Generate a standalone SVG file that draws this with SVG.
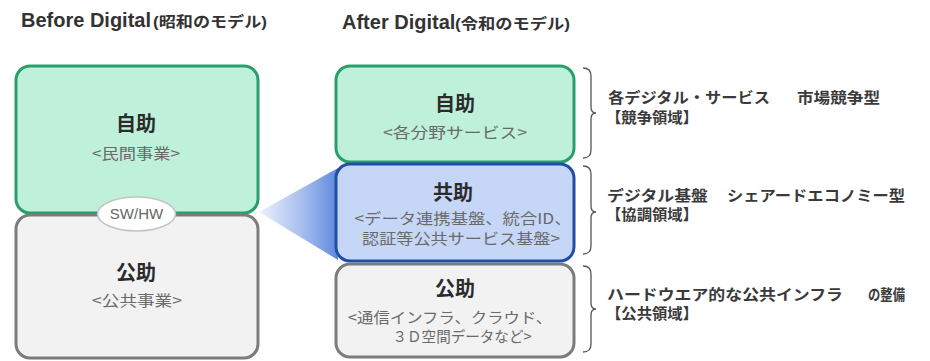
<svg xmlns="http://www.w3.org/2000/svg" width="930" height="361" viewBox="0 0 930 361">
<defs>
<style>
text{font-family:"Liberation Sans","Noto Sans CJK JP",sans-serif;}
.title{font-size:20px;font-weight:bold;fill:#333;}
.titlej{font-size:15px;font-weight:bold;fill:#333;}
.head{font-size:20px;font-weight:bold;fill:#2b2b2b;text-anchor:middle;font-family:"Noto Sans CJK JP",sans-serif;}
.sub{font-size:15px;fill:#6a6a6a;text-anchor:middle;font-family:"Noto Sans CJK JP",sans-serif;}
.note{font-size:15px;font-weight:bold;fill:#3a3a3a;font-family:"Noto Sans CJK JP",sans-serif;}
.green{fill:#bff0da;stroke:#2a9f6c;stroke-width:3;}
.gray{fill:#f2f2f2;stroke:#7c7c7c;stroke-width:3;}
.blue{fill:#c6d6f6;stroke:#1f4ea6;stroke-width:3;}
.brace{fill:none;stroke:#555;stroke-width:1.3;}
</style>
<linearGradient id="fan" x1="0" y1="0" x2="1" y2="0">
<stop offset="0" stop-color="#eef2fc"/>
<stop offset="0.6" stop-color="#9fb8ec"/>
<stop offset="1" stop-color="#5f88dc"/>
</linearGradient>
</defs>
<rect width="930" height="361" fill="#fff"/>

<g id="titles">
<text class="title" x="21" y="27">Before Digital</text>
<text class="titlej" x="153" y="27" textLength="114" lengthAdjust="spacingAndGlyphs">(昭和のモデル)</text>
<text class="title" x="342" y="29">After Digital</text>
<text class="titlej" x="455" y="29" textLength="115" lengthAdjust="spacingAndGlyphs">(令和のモデル)</text>
</g>

<g id="connectors">
<polygon points="259,212 338,168 338,260" fill="url(#fan)"/>
<path class="brace" d="M583,68 Q591,68 591,76 L591,107 Q591,113 596,113 Q591,113 591,119 L591,150 Q591,158 583,158"/>
<path class="brace" d="M583,166 Q591,166 591,174 L591,206 Q591,212 596,212 Q591,212 591,218 L591,246 Q591,254 583,254"/>
<path class="brace" d="M583,266 Q591,266 591,274 L591,303 Q591,309 596,309 Q591,309 591,315 L591,344 Q591,352 583,352"/>
</g>

<g id="before-jijo">
<rect class="green" x="16" y="66" width="242" height="147" rx="14"/>
<text class="head" x="136" y="131">自助</text>
<text class="sub" x="136" y="159" textLength="88" lengthAdjust="spacingAndGlyphs">&lt;民間事業&gt;</text>
</g>
<g id="before-kojo">
<rect class="gray" x="16" y="215" width="242" height="143" rx="14"/>
<text class="head" x="136" y="280">公助</text>
<text class="sub" x="137" y="306" textLength="90" lengthAdjust="spacingAndGlyphs">&lt;公共事業&gt;</text>
</g>
<g id="sw-hw">
<ellipse cx="136.5" cy="214" rx="39" ry="17" fill="#fff" stroke="#c4c4c4" stroke-width="1.5"/>
<text x="136.5" y="219" text-anchor="middle" font-size="15" fill="#666">SW/HW</text>
</g>

<g id="after-jijo">
<rect class="green" x="336" y="66" width="238" height="96" rx="14"/>
<text class="head" x="455" y="111">自助</text>
<text class="sub" x="455" y="138" textLength="144" lengthAdjust="spacingAndGlyphs">&lt;各分野サービス&gt;</text>
</g>
<g id="after-kyojo">
<rect class="blue" x="336" y="164" width="238" height="97" rx="14"/>
<text class="head" x="453" y="200">共助</text>
<text class="sub" x="463" y="224" textLength="217" lengthAdjust="spacingAndGlyphs">&lt;データ連携基盤、統合ID、</text>
<text class="sub" x="461" y="244" textLength="198" lengthAdjust="spacingAndGlyphs">認証等公共サービス基盤&gt;</text>
</g>
<g id="after-kojo">
<rect class="gray" x="336" y="264" width="238" height="93" rx="14"/>
<text class="head" x="455" y="296">公助</text>
<text class="sub" x="450" y="323" textLength="204" lengthAdjust="spacingAndGlyphs">&lt;通信インフラ、クラウド、</text>
<text class="sub" x="462" y="342" textLength="139" lengthAdjust="spacingAndGlyphs">３Ｄ空間データなど&gt;</text>
</g>

<g id="note-competition">
<text class="note" x="608" y="103" textLength="162" lengthAdjust="spacingAndGlyphs">各デジタル・サービス</text>
<text class="note" x="797" y="103" textLength="83" lengthAdjust="spacingAndGlyphs">市場競争型</text>
<text class="note" x="606" y="123" textLength="92" lengthAdjust="spacingAndGlyphs">【競争領域】</text>
</g>
<g id="note-cooperation">
<text class="note" x="607" y="201" textLength="101" lengthAdjust="spacingAndGlyphs">デジタル基盤</text>
<text class="note" x="727" y="201" textLength="178" lengthAdjust="spacingAndGlyphs">シェアードエコノミー型</text>
<text class="note" x="606" y="220" textLength="92" lengthAdjust="spacingAndGlyphs">【協調領域】</text>
</g>
<g id="note-public">
<text class="note" x="607" y="300" textLength="236" lengthAdjust="spacingAndGlyphs">ハードウエア的な公共インフラ</text>
<text class="note" x="868" y="300" textLength="37" lengthAdjust="spacingAndGlyphs">の整備</text>
<text class="note" x="606" y="319" textLength="92" lengthAdjust="spacingAndGlyphs">【公共領域】</text>
</g>
</svg>
